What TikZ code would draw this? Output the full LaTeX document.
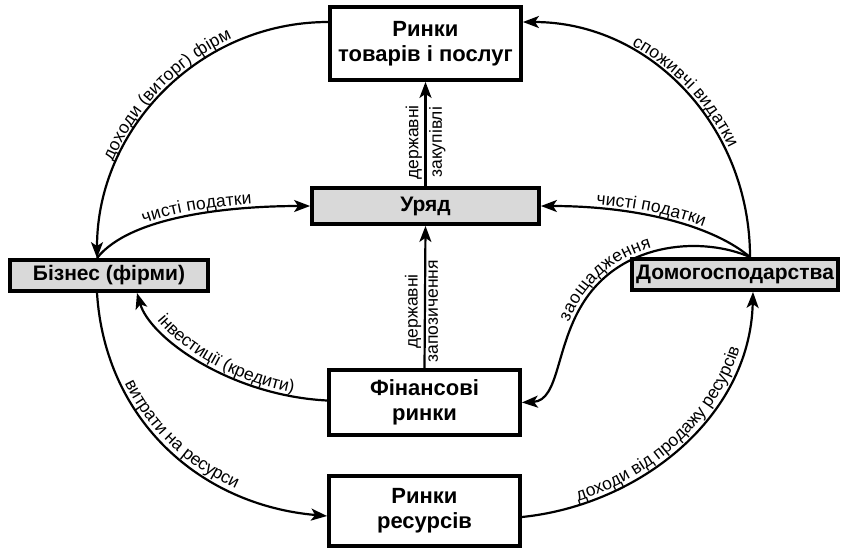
\documentclass[tikz,border=0pt]{standalone}
\usepackage{fontspec}
\setmainfont{Liberation Sans}
\usetikzlibrary{arrows.meta,decorations.text,calc}
\newcommand\lblfont{\fontsize{17.5}{19}\selectfont}
\begin{document}
\begin{tikzpicture}[x=1pt,y=-1pt,
  box/.style={draw, line width=3.8pt, fill=white, align=center, inner sep=0pt,
    font=\fontsize{22}{25}\selectfont\bfseries},
  graybox/.style={box, fill=black!15, font=\fontsize{21}{24}\selectfont\bfseries},
  flow/.style={line width=2.2pt, -{Stealth[length=16pt,width=12pt,inset=4pt]}},
  lbl/.style={font=\lblfont, inner sep=2.5pt},
  alongtext/.style={decorate, decoration={text along path, text={|\lblfont|#1},
    text align=center, raise=4pt}}
]
\fill[white] (0,0) rectangle (845,550);
\useasboundingbox (0,0) rectangle (845,550);

\node[box, minimum width=191pt, minimum height=73pt] (top) at (425.5,43.5) {Ринки\\товарів і послуг};
\node[graybox, minimum width=227pt, minimum height=36pt] (gov) at (425.5,206) {Уряд};
\node[graybox, minimum width=198pt, minimum height=31pt] (biz) at (109,275.5) {Бізнес (фірми)};
\node[graybox, minimum width=206pt, minimum height=31pt] (hh) at (735,274.5) {Домогосподарства};
\node[box, minimum width=191pt, minimum height=65pt] (fin) at (424.5,402.5) {Фінансові\\ринки};
\node[box, minimum width=191pt, minimum height=70pt] (res) at (424.5,511) {Ринки\\ресурсів};

\coordinate (tW) at ($(top.west)+(0,-21.5)$);
\coordinate (tE) at ($(top.east)+(0,-21.5)$);
\coordinate (bN) at ($(biz.north)+(-12,0)$);
\coordinate (bS) at ($(biz.south)+(-12,0)$);
\coordinate (bS2) at ($(biz.south)+(28,0)$);
\coordinate (hN) at ($(hh.north)+(15,0)$);
\coordinate (hS) at ($(hh.south)+(18,0)$);
\coordinate (fW) at ($(fin.west)+(0,-2)$);
\coordinate (rW) at ($(res.west)+(0,5)$);
\coordinate (rE) at ($(res.east)+(0,6)$);
\coordinate (sav) at (585,300);

% доходи (виторг) фірм
\draw[flow] (tW) .. controls +(-128,0) and +(0,-130) .. (bN);
\path[alongtext={доходи (виторг) фірм}] (bN) .. controls +(0,-130) and +(-128,0) .. (tW);
% споживчі видатки
\draw[flow] (hN) .. controls +(0,-130) and +(128,0) .. (tE);
\path[alongtext={споживчі видатки}] (tE) .. controls +(128,0) and +(0,-130) .. (hN);
% чисті податки (бізнес)
\draw[flow] (bN) .. controls +(33,-42) and +(-80,0) .. (gov.west);
\path[alongtext={чисті податки}] (bN) .. controls +(33,-42) and +(-80,0) .. (gov.west);
% чисті податки (домогосподарства)
\draw[flow] (hN) .. controls +(-35,-30) and +(100,0) .. (gov.east);
\path[alongtext={чисті податки}] (gov.east) .. controls +(100,0) and +(-35,-30) .. (hN);
% заощадження
\draw[flow] (hN) .. controls +(-45,-20) and +(40,-60) .. (sav) .. controls +(-30,45) and +(38,-2) .. (fin.east);
\path[alongtext={заощадження}] (fin.east) .. controls +(38,-2) and +(-30,45) .. (sav) .. controls +(40,-60) and +(-45,-20) .. (hN);
% інвестиції (кредити)
\draw[flow] (fW) .. controls +(-97,-5) and +(13,45) .. (bS2);
\path[alongtext={інвестиції (кредити)}] (bS2) .. controls +(13,45) and +(-97,-5) .. (fW);
% витрати на ресурси
\draw[flow] (bS) .. controls +(8,127) and +(-127,-11) .. (rW);
\path[alongtext={витрати на ресурси}] (bS) .. controls +(8,127) and +(-127,-11) .. (rW);
% доходи від продажу ресурсів
\draw[flow] (rE) .. controls +(118,-12) and +(-3,125) .. (hS);
\path[alongtext={доходи від продажу ресурсів}] (rE) .. controls +(118,-12) and +(-3,125) .. (hS);

% державні закупівлі
\draw[flow] (gov.north) -- node[lbl, pos=0.42, rotate=90, anchor=south] {державні}
  node[lbl, pos=0.42, rotate=90, anchor=north] {закупівлі} (top.south);
% державні запозичення
\draw[flow] (fin.north) -- node[lbl, pos=0.40, rotate=90, anchor=south] {державні}
  node[lbl, pos=0.40, rotate=90, anchor=north] {запозичення} (gov.south);
\end{tikzpicture}
\end{document}
